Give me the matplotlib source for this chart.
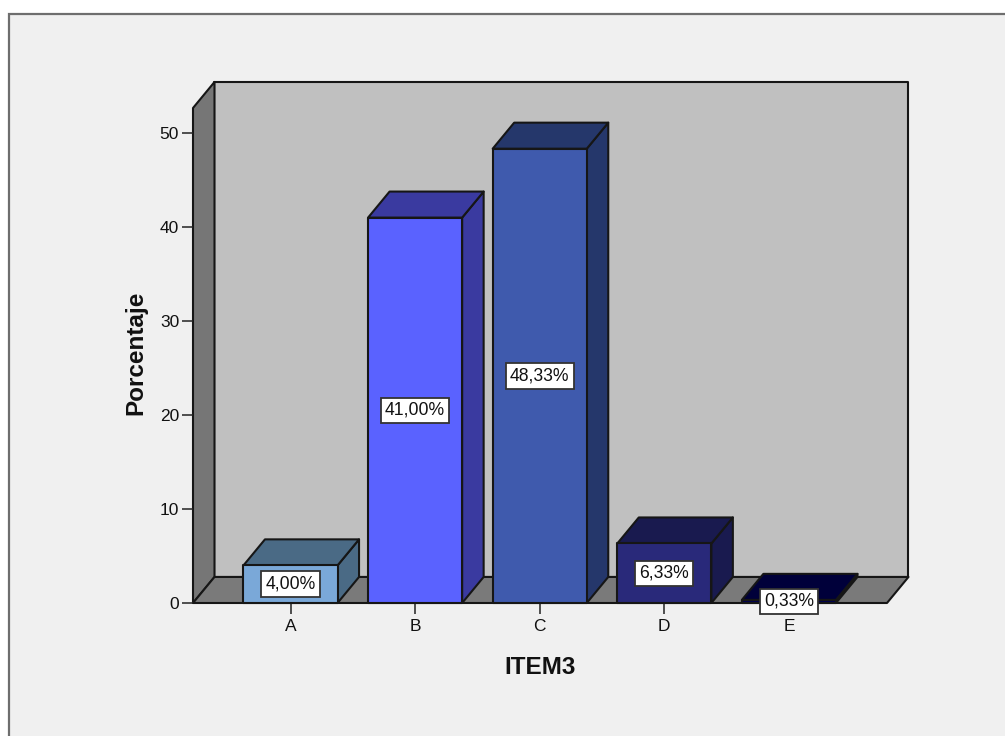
import matplotlib
matplotlib.use("Agg")
import matplotlib.pyplot as plt
from matplotlib.patches import Polygon, Rectangle

categories = ["A", "B", "C", "D", "E"]
percentages = [4.00, 41.00, 48.33, 6.33, 0.33]
value_labels = ["4,00%", "41,00%", "48,33%", "6,33%", "0,33%"]
y_ticks = [0, 10, 20, 30, 40, 50]

FRONT_COLORS = ["#7aa8d8", "#5a62ff", "#3f5aad", "#29297a", "#00004f"]
SIDE_COLORS = ["#4a6a85", "#3a3aa0", "#25376b", "#191a4f", "#00003a"]

W, H = 1005, 736
EDGE = "#161616"
LW = 1.5

plt.rcParams["font.family"] = ["Liberation Sans", "DejaVu Sans"]

fig = plt.figure(figsize=(W / 100, H / 100), dpi=100, facecolor="white")

# grey panel behind the plot, running off the right and bottom edges
fig.add_artist(Rectangle((9 / W, -0.01), 1.01, (722 + 7.4) / H, transform=fig.transFigure,
                         facecolor="#f0f0f0", edgecolor="#6e6e6e", linewidth=1.6, zorder=-1))

ax = fig.add_axes([193 / W, 1 - 603 / H, (887 - 193) / W, (603 - 108) / H])
ax.patch.set_visible(False)
ax.set_xlim(-0.7825, 4.787)
ax.set_ylim(0, 52.66)

x0, x1 = ax.get_xlim()
y0, y1 = ax.get_ylim()
# offset of the back plane from the front plane, in data units
dx, dy = 0.1725, 2.77
bar_w = 0.755


def poly(points, color, z):
    ax.add_patch(Polygon(points, closed=True, facecolor=color, edgecolor=EDGE,
                         linewidth=LW, joinstyle="round", clip_on=False, zorder=z))


# walls of the box
poly([(x0 + dx, y0 + dy), (x1 + dx, y0 + dy), (x1 + dx, y1 + dy), (x0 + dx, y1 + dy)], "#c0c0c0", 1)
poly([(x0, y0), (x0 + dx, y0 + dy), (x0 + dx, y1 + dy), (x0, y1)], "#767676", 1.1)
poly([(x0, y0), (x1, y0), (x1 + dx, y0 + dy), (x0 + dx, y0 + dy)], "#7a7a7a", 1.2)

for i, val in enumerate(percentages):
    left, right = i - bar_w / 2, i + bar_w / 2
    z = 2 + i
    poly([(right, 0), (right + dx, dy), (right + dx, val + dy), (right, val)], SIDE_COLORS[i], z)
    poly([(left, val), (right, val), (right + dx, val + dy), (left + dx, val + dy)], SIDE_COLORS[i], z)
    poly([(left, 0), (right, 0), (right, val), (left, val)], FRONT_COLORS[i], z)

for i, (val, label) in enumerate(zip(percentages, value_labels)):
    ax.text(i, val / 2, label, ha="center", va="center", fontsize=12.7, color="#111111",
            zorder=10, clip_on=False,
            bbox=dict(boxstyle="square,pad=0.24", facecolor="white", edgecolor="#333333", linewidth=1.3))

for side in ("top", "right", "left", "bottom"):
    ax.spines[side].set_visible(False)

ax.set_xticks(range(len(categories)))
ax.set_xticklabels(categories)
ax.set_yticks(y_ticks)
ax.tick_params(axis="both", length=8, width=1.1, color="#222222", labelsize=12.5,
               labelcolor="#111111")
ax.tick_params(axis="x", pad=3.5)
ax.tick_params(axis="y", pad=2)
ax.set_xlabel("ITEM3", fontsize=17.5, fontweight="bold", color="#111111", labelpad=15.5)
ax.set_ylabel("Porcentaje", fontsize=17.5, fontweight="bold", color="#111111", labelpad=9, y=0.505)

fig.savefig("out.png", dpi=100, facecolor=fig.get_facecolor())
